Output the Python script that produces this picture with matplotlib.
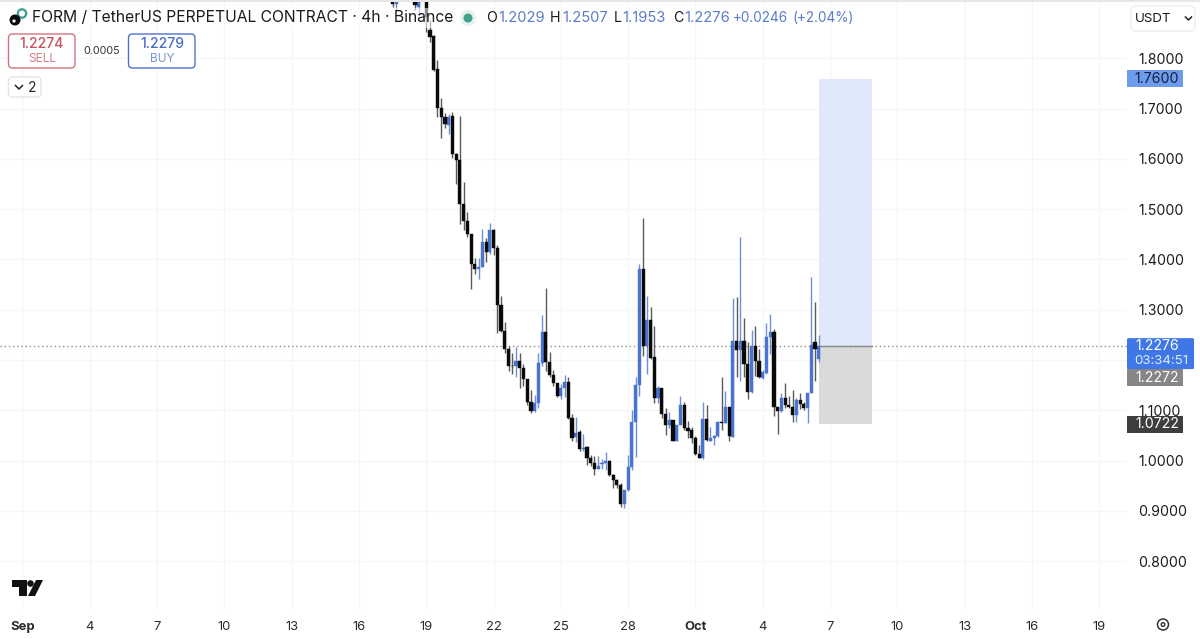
import numpy as np
import matplotlib
matplotlib.use("Agg")
from matplotlib import pyplot as plt
from matplotlib.patches import Rectangle, FancyBboxPatch, Polygon, Circle

plt.rcParams['font.family'] = ['Inter', 'DejaVu Sans']

# 4h candles, first one at Sep 17 12:00, day 0 = Sep 1
start_day = 16.5
opens = [1.93,1.908,1.93,1.97,1.98,1.96,1.94,1.903,1.93,
    1.94,1.857,1.845,1.779,1.701,1.684,1.668,1.686,1.609,1.598,1.510,1.477,1.450,1.392,1.382,1.386,1.434,1.414,1.459,
    1.422,1.309,1.258,1.222,1.189,1.189,1.198,1.185,1.162,1.117,1.098,1.114,1.195,1.256,1.197,1.170,1.154,1.128,1.144,1.156,
    1.084,1.046,1.056,1.023,1.026,1.004,0.996,0.984,0.993,0.996,1.000,0.971,0.961,0.952,0.913,0.941,0.988,1.077,
    1.150,1.382,1.227,1.280,1.205,1.125,1.144,1.093,1.071,1.081,1.039,1.071,1.110,1.064,1.061,1.044,1.013,1.004,1.083,1.038,1.044,1.048,1.077,1.075,1.106,
    1.047,1.238,1.220,1.238,1.192,1.136,1.227,1.198,1.164,1.174,1.246,1.256,1.107,1.099,1.125,1.110,1.107,1.091,1.120,1.112,1.105,1.134,1.236,1.2029]
highs = [1.95,1.95,1.99,2.00,2.01,1.98,1.95,1.95,1.97,
    1.96,1.877,1.847,1.797,1.721,1.692,1.690,1.694,1.611,1.686,1.555,1.495,1.450,1.402,1.402,1.460,1.442,1.472,1.460,
    1.429,1.327,1.276,1.228,1.213,1.226,1.213,1.193,1.162,1.140,1.130,1.213,1.290,1.343,1.215,1.180,1.155,1.152,1.170,1.167,
    1.092,1.086,1.061,1.053,1.028,1.011,1.009,1.009,1.002,1.016,1.001,0.973,0.964,0.956,0.941,1.011,1.100,1.167,
    1.392,1.482,1.327,1.305,1.268,1.148,1.145,1.104,1.096,1.081,1.071,1.129,1.117,1.079,1.067,1.048,1.031,1.117,1.110,1.067,1.051,1.079,1.166,1.139,1.107,
    1.323,1.326,1.444,1.283,1.236,1.260,1.268,1.221,1.180,1.273,1.292,1.262,1.107,1.135,1.155,1.128,1.140,1.124,1.135,1.117,1.134,1.366,1.316,1.2507]
lows = [1.903,1.897,1.925,1.95,1.95,1.93,1.897,1.889,1.92,
    1.853,1.833,1.776,1.684,1.641,1.661,1.650,1.601,1.550,1.471,1.459,1.444,1.341,1.371,1.361,1.386,1.396,1.411,1.409,
    1.254,1.256,1.213,1.179,1.173,1.166,1.144,1.149,1.110,1.095,1.097,1.104,1.189,1.179,1.167,1.149,1.126,1.122,1.127,1.083,
    1.039,1.037,1.018,1.018,0.991,0.989,0.971,0.984,0.984,0.981,0.970,0.946,0.946,0.908,0.905,0.940,0.982,1.006,
    1.128,1.207,1.172,1.201,1.115,1.115,1.084,1.051,1.064,1.038,1.039,1.071,1.061,1.044,1.034,1.011,1.004,1.002,1.038,1.038,1.031,1.046,1.061,1.074,1.038,
    1.047,1.166,1.158,1.167,1.122,1.135,1.168,1.164,1.162,1.172,1.212,1.089,1.053,1.096,1.104,1.104,1.077,1.077,1.103,1.101,1.075,1.134,1.159,1.1953]
closes = [1.908,1.93,1.97,1.98,1.96,1.94,1.906,1.93,1.94,
    1.883,1.843,1.778,1.701,1.684,1.670,1.684,1.609,1.598,1.510,1.477,1.450,1.392,1.382,1.386,1.434,1.414,1.459,1.422,
    1.309,1.258,1.222,1.189,1.188,1.198,1.185,1.162,1.117,1.098,1.114,1.195,1.256,1.197,1.170,1.154,1.128,1.144,1.156,1.084,
    1.044,1.055,1.023,1.025,1.004,0.996,0.984,0.990,0.996,1.000,0.971,0.961,0.951,0.913,0.941,0.988,1.077,1.150,
    1.382,1.227,1.280,1.203,1.125,1.145,1.093,1.071,1.081,1.039,1.071,1.110,1.064,1.059,1.044,1.013,1.004,1.083,1.041,1.044,1.049,1.077,1.075,1.106,1.049,
    1.238,1.220,1.238,1.192,1.136,1.227,1.198,1.166,1.176,1.246,1.256,1.107,1.099,1.125,1.110,1.107,1.091,1.120,1.112,1.105,1.134,1.230,1.221,1.2276]

# position tool
entry = 1.2276
target = 1.76
stop = 1.0722
tool_start = 35.5
tool_end = 37.85

price_ticks = [0.8,0.9,1.0,1.1,1.2,1.3,1.4,1.5,1.6,1.7,1.8]
price_labels = ["0.8000","0.9000","1.0000","1.1000","","1.3000","1.4000","1.5000","1.6000","1.7000","1.8000"]
date_ticks = [0,3,6,9,12,15,18,21,24,27,30,33,36,39,42,45,48]
date_labels = ["Sep","4","7","10","13","16","19","22","25","28","Oct","4","7","10","13","16","19"]

up_body, up_wick = "#4a74cf", "#6f8fd6"
down_body, down_wick = "#0a0a0a", "#5a5a5a"

fig = plt.figure(figsize=(12,6.39), dpi=100, facecolor="white")
ax = fig.add_axes([0, 29/639, 1127/1200, 610/639])
ax.set_xlim(-1.003, 49.24)
ax.set_ylim(0.7025, 1.9164)
for s in ax.spines.values():
    s.set_visible(False)
ax.set_axisbelow(True)
ax.grid(True, color="#f5f5f5", lw=0.9)
ax.yaxis.tick_right()
ax.set_yticks(price_ticks, price_labels, fontsize=10.2, color="#1c1c1c")
ax.set_xticks(date_ticks, date_labels, fontsize=9.4, color="#2a2a2a")
ax.tick_params(length=0)
ax.tick_params(axis="y", pad=8)
ax.tick_params(axis="x", pad=8)
for lab in ax.get_xticklabels():
    if lab.get_text() in ("Sep","Oct"):
        lab.set_fontweight("bold")

# tool first so the candles sit on top
ax.add_patch(Rectangle((tool_start,entry), tool_end-tool_start, target-entry, fc="#dfe9fb", ec="none", zorder=1))
ax.add_patch(Rectangle((tool_start,stop), tool_end-tool_start, entry-stop, fc="#dadada", ec="none", zorder=1))
ax.plot([tool_start,tool_end], [entry,entry], color="#8c8c8c", lw=1, zorder=2)
ax.axhline(entry, color="#a08a78", lw=1, ls=(0,(1,2)), zorder=1.5)

days = start_day + np.arange(len(opens))/6
o, h, l, c = map(np.array, (opens, highs, lows, closes))
up = c >= o
ax.vlines(days[up], l[up], h[up], color=up_wick, lw=1, zorder=3)
ax.vlines(days[~up], l[~up], h[~up], color=down_wick, lw=1, zorder=3)
ax.bar(days[up], (c-o)[up], bottom=o[up], width=0.14, color=up_body, edgecolor=up_body, lw=0.3, zorder=4)
ax.bar(days[~up], (c-o)[~up], bottom=o[~up], width=0.14, color=down_body, edgecolor=down_body, lw=0.3, zorder=4)

### UI on top, in pixels ###
ui = fig.add_axes([0,0,1,1], facecolor="none")
ui.set_xlim(0,1200)
ui.set_ylim(639,0)
ui.axis("off")

def price_y(p):
    return fig.bbox.height - ax.transData.transform((0,p))[1]

def box(x0, y0, x1, y1, ec, fc="white", r=4, lw=1):
    ui.add_patch(FancyBboxPatch((x0,y0), x1-x0, y1-y0, boxstyle=f"round,pad=0,rounding_size={r}", fc=fc, ec=ec, lw=lw, zorder=5))

def tag(p, txt, color, dy=0, tc="white"):
    y = price_y(p)+dy
    ui.add_patch(Rectangle((1127,y-8.5), 56, 17, fc=color, ec="none", zorder=6))
    ui.text(1157, y, txt, color=tc, fontsize=10.2, ha="center", va="center", zorder=7)

ui.add_patch(Rectangle((0,0), 1200, 1.5, fc="#e6e6e6", ec="none"))
ui.add_patch(Rectangle((30,8), 425, 20, fc="white", alpha=0.55, ec="none"))

# header
ui.add_patch(Circle((15,20), 5.5, fc="#0d0d0d", ec="none", zorder=6))
ui.add_patch(Circle((14,21), 1.6, fc="white", ec="none", zorder=7))
ui.add_patch(Circle((22,13.5), 4.2, fc="none", ec="#3d9c8f", lw=1.6, zorder=5))
ui.text(32, 18, "FORM / TetherUS PERPETUAL CONTRACT · 4h · Binance", fontsize=11.25, color="#1b1b1b", va="center", zorder=7)
ui.add_patch(Circle((468,18), 8, fc="#e3f2ee", ec="none", zorder=6))
ui.add_patch(Circle((468,18), 4.5, fc="#44a08c", ec="none", zorder=7))
for x, txt, col, fs in [(486,"O","#1b1b1b",10.2),(498,"1.2029","#5a7cc8",10.6),(550,"H","#1b1b1b",10.2),(562,"1.2507","#5a7cc8",10.6),
                    (614,"L","#1b1b1b",10.2),(622,"1.1953","#5a7cc8",10.6),(673,"C","#1b1b1b",10.2),(684,"1.2276","#5a7cc8",10.6),
                    (733,"+0.0246","#5a7cc8",9.8),(793,"(+2.04%)","#5a7cc8",9.8)]:
    ui.text(x, 18, txt, fontsize=fs, color=col, va="center", zorder=7)

# sell / buy
box(8.5,34,75,68,"#d3737b")
ui.text(42,44.5,"1.2274",fontsize=10,color="#c4525e",ha="center",va="center",fontweight="medium",zorder=7)
ui.text(42,59,"SELL",fontsize=8.6,color="#cf7f86",ha="center",va="center",zorder=7)
ui.text(102,51.5,"0.0005",fontsize=7.8,color="#333333",ha="center",va="center",zorder=7)
box(128.5,34,195,68,"#4f72c6")
ui.text(162,44.5,"1.2279",fontsize=10,color="#4a6cc0",ha="center",va="center",fontweight="medium",zorder=7)
ui.text(162,59,"BUY",fontsize=8.6,color="#7b93d2",ha="center",va="center",zorder=7)
box(8.5,77,41,97,"#e4e4e4")
ui.plot([15.5,19,22.5],[85.5,89,85.5],color="#222222",lw=1.1,zorder=7)
ui.text(32.5,87.5,"2",fontsize=10,color="#222222",ha="center",va="center",zorder=7)

# currency
box(1131,6,1195,31,"#eeeeee",r=5)
ui.text(1135,18.5,"USDT",fontsize=9.6,color="#1b1b1b",va="center",zorder=7)
ui.plot([1185.5,1188.5,1191.5],[17,20,17],color="#222222",lw=1.1,zorder=7)

# price tags
tag(target,"1.7600","#6e9bec",tc="#10213f")
y = price_y(entry)
ui.add_patch(FancyBboxPatch((1127,y-8), 67, 31, boxstyle="round,pad=0,rounding_size=1.5", fc="#3f78e6", ec="none", zorder=6))
ui.text(1157,y,"1.2276",color="white",fontsize=10.2,ha="center",va="center",zorder=7)
ui.text(1161,y+15,"03:34:51",color="#dfe9fb",fontsize=9.6,ha="center",va="center",zorder=7)
tag(entry,"1.2272","#868686",dy=31.5)
tag(stop,"1.0722","#3e3e3e")

# tradingview logo
ui.add_patch(Polygon([(12,580),(27,580),(27,596),(19,596),(19,587),(12,587)], fc="#111111", ec="none", zorder=7))
ui.add_patch(Circle((30.5,583.5), 3.3, fc="#111111", ec="none", zorder=7))
ui.add_patch(Polygon([(36,580),(43,580),(35,596),(28,596)], fc="#111111", ec="none", zorder=7))

# gear
ui.add_patch(Circle((1163,624.5), 5.5, fc="none", ec="#333333", lw=1.1, zorder=7))
ui.add_patch(Circle((1163,624.5), 1.8, fc="none", ec="#333333", lw=1, zorder=7))

fig.savefig("out.png", dpi=100)
